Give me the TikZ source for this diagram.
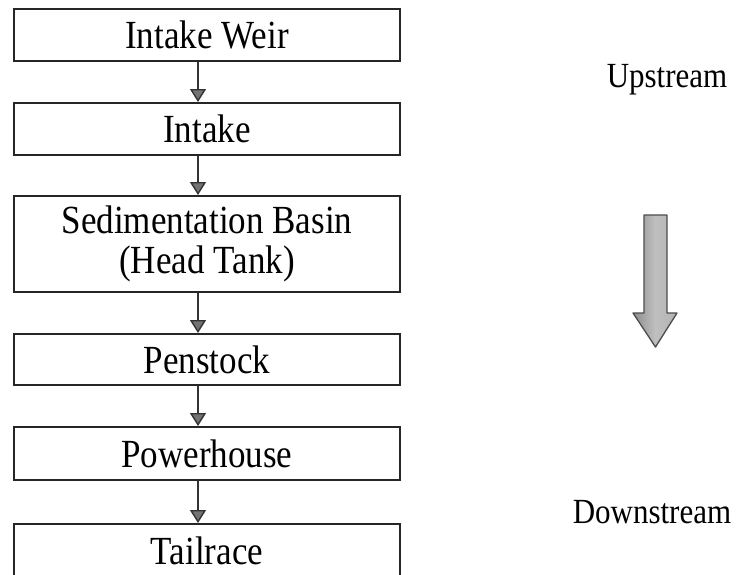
\documentclass[tikz,border=0pt]{standalone}
\usepackage{fontspec}
\setmainfont{Liberation Serif}
\usetikzlibrary{arrows.meta}
\newcommand\vst[1]{\scalebox{1}[1.14]{#1}}
\begin{document}
\begin{tikzpicture}[x=1pt,y=-1pt,
  stage/.style={draw=black!85, line width=2pt, minimum width=386pt, inner sep=0pt,
    font=\fontsize{35}{38}\selectfont, align=center},
  flow/.style={draw=black!80, line width=1.4pt,
    -{Triangle[width=16pt,length=13pt,fill=black!55]}},
  side/.style={font=\fontsize{31}{34}\selectfont, inner sep=0pt}]
\useasboundingbox (0,0) rectangle (738,574);
\node[stage, minimum height=52pt] (b1) at (207,35) {\vst{Intake Weir}};
\node[stage, minimum height=52pt] (b2) at (207,129) {\vst{Intake}};
\node[stage, minimum height=96pt] (b3) at (207,244) {\vst{Sedimentation Basin}\\[2pt]\vst{(Head Tank)}};
\node[stage, minimum height=51pt] (b4) at (207,359.5) {\vst{Penstock}};
\node[stage, minimum height=53pt] (b5) at (207,453.5) {\vst{Powerhouse}};
\node[stage, minimum height=54pt] (b6) at (207,551) {\vst{Tailrace}};
\draw[flow] ([xshift=-9pt]b1.south) -- ([xshift=-9pt]b2.north);
\draw[flow] ([xshift=-9pt]b2.south) -- ([xshift=-9pt]b3.north);
\draw[flow] ([xshift=-9pt]b3.south) -- ([xshift=-9pt]b4.north);
\draw[flow] ([xshift=-9pt]b4.south) -- ([xshift=-9pt]b5.north);
\draw[flow] ([xshift=-9pt]b5.south) -- ([xshift=-9pt]b6.north);
\node[side] (up) at (667,80) {\vst{Upstream}};
\node[side] (down) at (652,512) {\vst{Downstream}};
\draw[draw=black!70, line width=1.3pt, left color=black!45, right color=black!30, middle color=black!25, line join=round]
  (644,215) -- (667,215) -- (667,313) -- (677,313) -- (655.5,347) -- (633,313) -- (644,313) -- cycle;
\end{tikzpicture}
\end{document}
